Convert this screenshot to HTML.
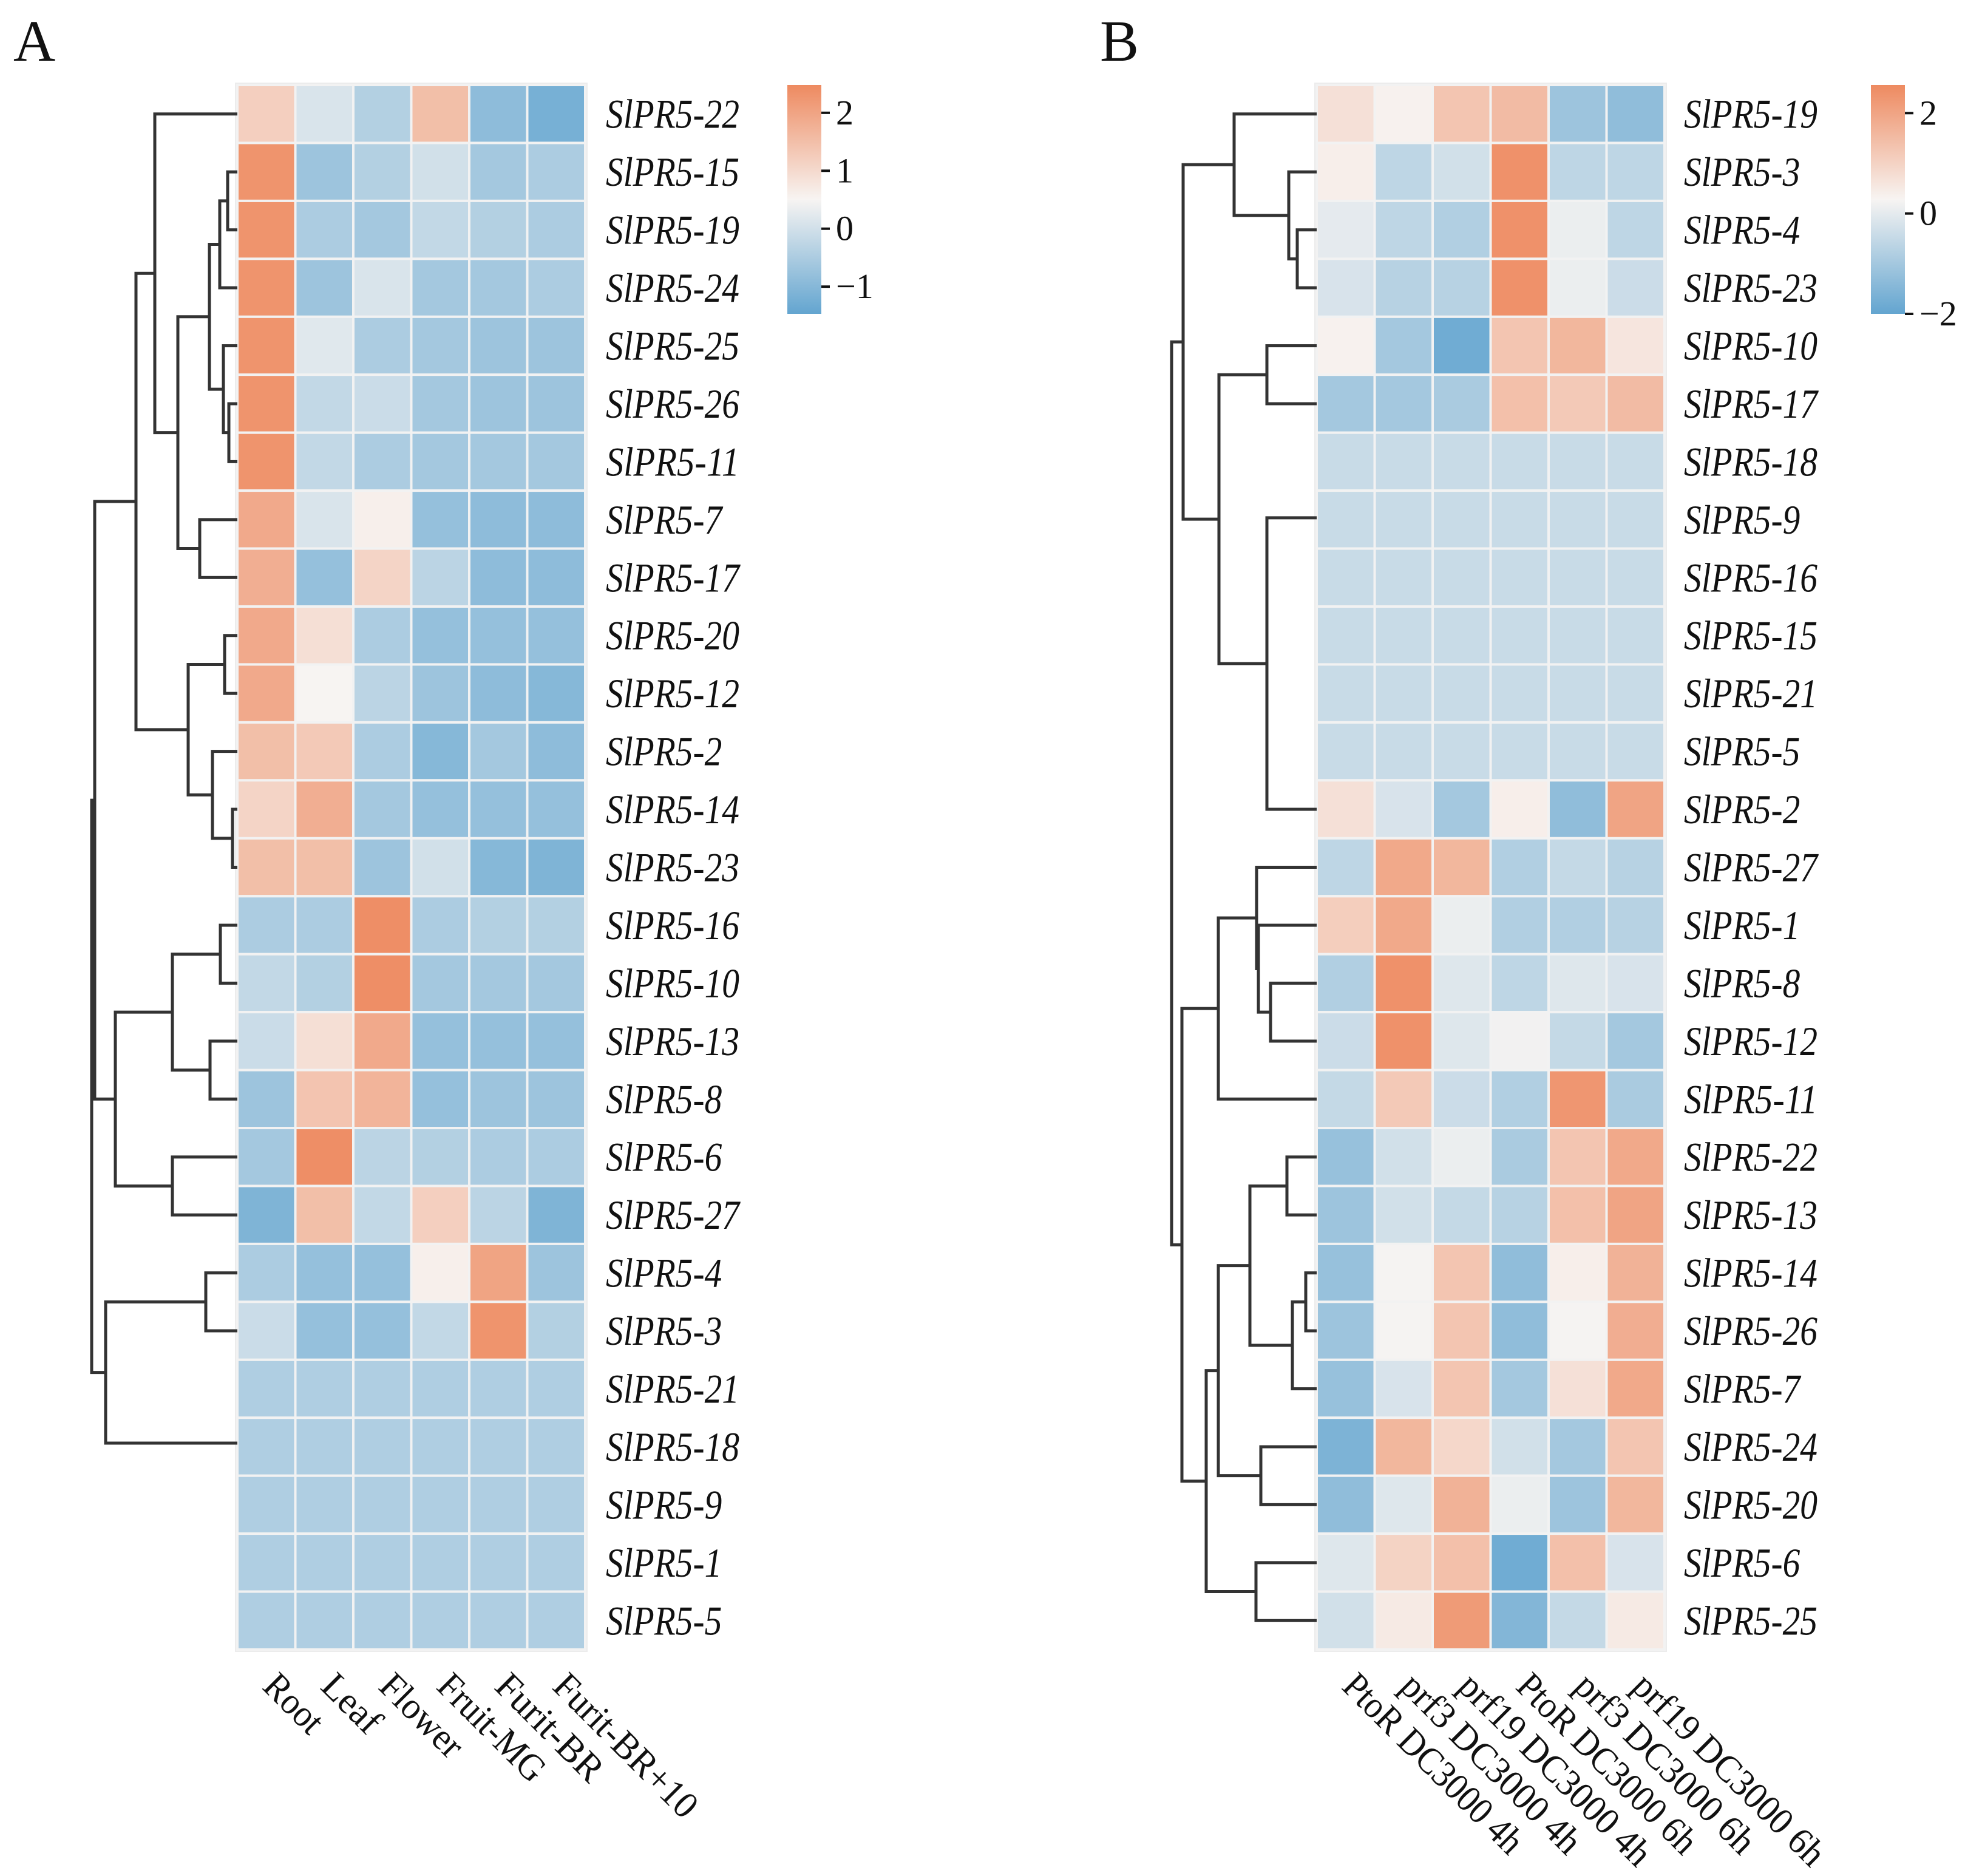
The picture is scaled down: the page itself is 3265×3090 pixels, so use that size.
<!DOCTYPE html>
<html><head><meta charset="utf-8">
<style>
html,body{margin:0;padding:0;background:#fff;}
svg{display:block;}
text{font-family:"Liberation Serif","DejaVu Serif",serif;fill:#111;}
</style></head>
<body>
<svg id="fig" width="3265" height="3090" viewBox="0 0 3265 3090" xmlns="http://www.w3.org/2000/svg">
<defs>
<linearGradient id="cbar" x1="0" y1="0" x2="0" y2="1">
<stop offset="0" stop-color="#ee8a60"/><stop offset="0.5" stop-color="#f7f4f2"/><stop offset="1" stop-color="#63a5d0"/>
</linearGradient>
</defs>
<text x="22" y="100" font-size="96">A</text>
<text x="1812" y="100" font-size="96">B</text>
<g id="panelA"></g>
<g id="panelB"></g>
</svg>
<script>
const NS="http://www.w3.org/2000/svg";
// ---- Panel A data ----
const rowsA=[22,15,19,24,25,26,11,7,17,20,12,2,14,23,16,10,13,8,6,27,4,3,21,18,9,1,5];
const colsA=["Root","Leaf","Flower","Fruit-MG","Furit-BR","Furit-BR+10"];
const valuesA=[
[1.2,0.1,-0.4,1.5,-0.9,-1.2],
[2.3,-0.7,-0.4,0.0,-0.6,-0.5],
[2.3,-0.5,-0.6,-0.2,-0.4,-0.5],
[2.3,-0.7,0.1,-0.6,-0.6,-0.5],
[2.3,0.2,-0.5,-0.6,-0.7,-0.7],
[2.3,-0.2,-0.1,-0.6,-0.7,-0.7],
[2.3,-0.2,-0.5,-0.6,-0.6,-0.6],
[1.9,0.1,0.6,-0.8,-0.9,-0.9],
[1.8,-0.8,1.1,-0.3,-0.9,-0.9],
[1.9,0.9,-0.5,-0.8,-0.8,-0.8],
[1.9,0.5,-0.3,-0.7,-0.9,-1.0],
[1.5,1.3,-0.5,-1.0,-0.6,-0.9],
[1.1,1.8,-0.6,-0.8,-0.8,-0.8],
[1.5,1.5,-0.7,0.0,-1.0,-1.1],
[-0.5,-0.5,2.4,-0.5,-0.4,-0.4],
[-0.2,-0.4,2.4,-0.6,-0.6,-0.6],
[-0.1,0.9,1.9,-0.8,-0.8,-0.8],
[-0.7,1.4,1.7,-0.8,-0.7,-0.7],
[-0.6,2.4,-0.3,-0.4,-0.5,-0.5],
[-1.1,1.5,-0.2,1.2,-0.3,-1.1],
[-0.5,-0.8,-0.8,0.6,2.0,-0.7],
[-0.1,-0.8,-0.8,-0.2,2.3,-0.4],
[-0.45,-0.45,-0.45,-0.45,-0.45,-0.45],
[-0.45,-0.45,-0.45,-0.45,-0.45,-0.45],
[-0.45,-0.45,-0.45,-0.45,-0.45,-0.45],
[-0.45,-0.45,-0.45,-0.45,-0.45,-0.45],
[-0.45,-0.45,-0.45,-0.45,-0.45,-0.45]];
const ticksA=[2,1,0,-1];
const rangeA=[-1.47,2.48];
// ---- Panel B data ----
const rowsB=[19,3,4,23,10,17,18,9,16,15,21,5,2,27,1,8,12,11,22,13,14,26,7,24,20,6,25];
const colsB=["PtoR DC3000 4h","prf3 DC3000 4h","prf19 DC3000 4h","PtoR DC3000 6h","prf3 DC3000 6h","prf19 DC3000 6h"];
const valuesB=[
[0.7,0.35,1.3,1.5,-1.1,-1.3],
[0.4,-0.6,-0.3,2.4,-0.6,-0.6],
[0.0,-0.6,-0.8,2.4,0.1,-0.6],
[-0.2,-0.7,-0.7,2.4,0.1,-0.4],
[0.35,-1.0,-1.8,1.3,1.6,0.6],
[-1.0,-1.0,-0.9,1.4,1.2,1.5],
[-0.45,-0.45,-0.45,-0.45,-0.45,-0.45],
[-0.45,-0.45,-0.45,-0.45,-0.45,-0.45],
[-0.45,-0.45,-0.45,-0.45,-0.45,-0.45],
[-0.45,-0.45,-0.45,-0.45,-0.45,-0.45],
[-0.45,-0.45,-0.45,-0.45,-0.45,-0.45],
[-0.45,-0.45,-0.45,-0.45,-0.45,-0.45],
[0.7,-0.2,-1.0,0.4,-1.3,2.0],
[-0.6,1.9,1.6,-0.8,-0.5,-0.7],
[1.1,1.9,0.1,-0.8,-0.8,-0.7],
[-0.8,2.4,-0.1,-0.6,-0.1,-0.2],
[-0.4,2.4,-0.1,0.2,-0.5,-1.0],
[-0.5,1.2,-0.4,-0.8,2.3,-0.9],
[-1.2,-0.3,0.1,-0.9,1.3,1.9],
[-1.1,-0.3,-0.5,-0.7,1.4,2.0],
[-1.2,0.25,1.3,-1.3,0.4,1.7],
[-1.1,0.25,1.3,-1.3,0.25,1.8],
[-1.2,-0.2,1.3,-1.0,0.7,1.9],
[-1.6,1.6,0.9,-0.3,-1.0,1.3],
[-1.3,-0.1,1.7,0.1,-1.1,1.6],
[-0.1,1.0,1.4,-1.8,1.4,-0.2],
[-0.3,0.5,2.2,-1.5,-0.5,0.5]];
const ticksB=[2,0,-2];
const rangeB=[-2.0,2.56];

// dendrogram trees: [left, right, merge x]
const TA=[[[[22,[[[[15,19,375],24,362],[25,[26,11,377],368],345],[7,17,329],293],255],[[20,12,370],[2,[14,23,383],350],310],224],[[[16,10,363],[13,8,346],284],[6,27,284],190],156],[[4,3,339],[21,[18,[9,[1,5,0],0],0],0],174],151];
const TB=[[[19,[3,[4,23,2137],2123],2033],[[10,17,2087],[[18,[9,[16,[15,[21,5,0],0],0],0],0],2,2087],2008],1949],[[[27,[1,[8,12,2093],2073],2070],11,2007],[[[[22,13,2120],[[14,26,2151],7,2129],2059],[24,20,2077],2007],[6,25,2069],1987],1947],1930];

function mix(a,b,t){return a.map((v,i)=>Math.round(v+(b[i]-v)*t));}
const CB=[99,165,208],CW=[247,244,242],CO=[238,138,96];
function color(v,r){let t=(v-r[0])/(r[1]-r[0]);t=Math.max(0,Math.min(1,t));
 const c=t<0.5?mix(CB,CW,t/0.5):mix(CW,CO,(t-0.5)/0.5);return `rgb(${c.join(',')})`;}
function el(tag,attrs,parent){const e=document.createElementNS(NS,tag);for(const k in attrs)e.setAttribute(k,attrs[k]);parent.appendChild(e);return e;}

function panel(g,rows,cols,vals,range,ticks,tree,x0,labelX,cbX,key){
 const y0=140,H=2577,W=573,rh=H/rows.length,cw=W/cols.length;
 const ys=i=>y0+(i+0.5)*rh;
 const frame=el('rect',{x:x0-4,y:y0-4,width:W+8,height:H+8,fill:'#ececec'},g);
 
 
 vals.forEach((row,i)=>row.forEach((v,j)=>{
  const r=el('rect',{x:x0+j*cw,y:y0+i*rh,width:cw,height:rh,fill:color(v,range),stroke:'#f2f2f2','stroke-width':4},g);
  
  
 }));
 rows.forEach((n,i)=>{
  const t=el('text',{x:labelX,y:ys(i)+23,'font-size':68,'font-style':'italic',textLength:(2.833+0.5*String(n).length)*57.4,lengthAdjust:'spacingAndGlyphs'},g);
  t.textContent='SlPR5-'+n;
  
  
 });
 cols.forEach((c,j)=>{
  const cx=x0+(j+0.5)*cw;
  const t=el('text',{transform:`translate(${cx+22},${2750}) rotate(45)`,'font-size':62,'dominant-baseline':'hanging',textLength:c.length*28,lengthAdjust:'spacingAndGlyphs'},g);
  t.textContent=c;
  
  
 });
 const cb=el('rect',{x:cbX,y:140,width:56,height:377,fill:'url(#cbar)'},g);
 
 
 const vy=v=>140+(range[1]-v)/(range[1]-range[0])*377;
 ticks.forEach(v=>{
  const l=el('line',{x1:cbX+56,x2:cbX+70,y1:vy(v),y2:vy(v),stroke:'#111','stroke-width':4},g);
  
  
  const t=el('text',{x:cbX+80,y:vy(v)+19,'font-size':58},g);
  t.textContent=v<0?'\u2212'+(-v):String(v);
  
  
 });
 const dg=el('g',{stroke:'#333','stroke-width':5,fill:'none'},g);
 
 
 function walk(n){
  if(typeof n==='number'){return {y:ys(rows.indexOf(n)),x:x0};}
  const a=walk(n[0]),b=walk(n[1]);const h=n[2]===0?x0:n[2];
  if(n[2]!==0){
   const p=el('path',{d:`M${a.x},${a.y}H${h}V${b.y}H${b.x}`},dg);
   
   
  }
  return {y:(a.y+b.y)/2,x:h};
 }
 walk(tree);
}
panel(document.getElementById('panelA'),rowsA,colsA,valuesA,rangeA,ticksA,TA,391,998,1297,'a');
panel(document.getElementById('panelB'),rowsB,colsB,valuesB,rangeB,ticksB,TB,2169,2774,3082,'b');
</script>
</body></html>
